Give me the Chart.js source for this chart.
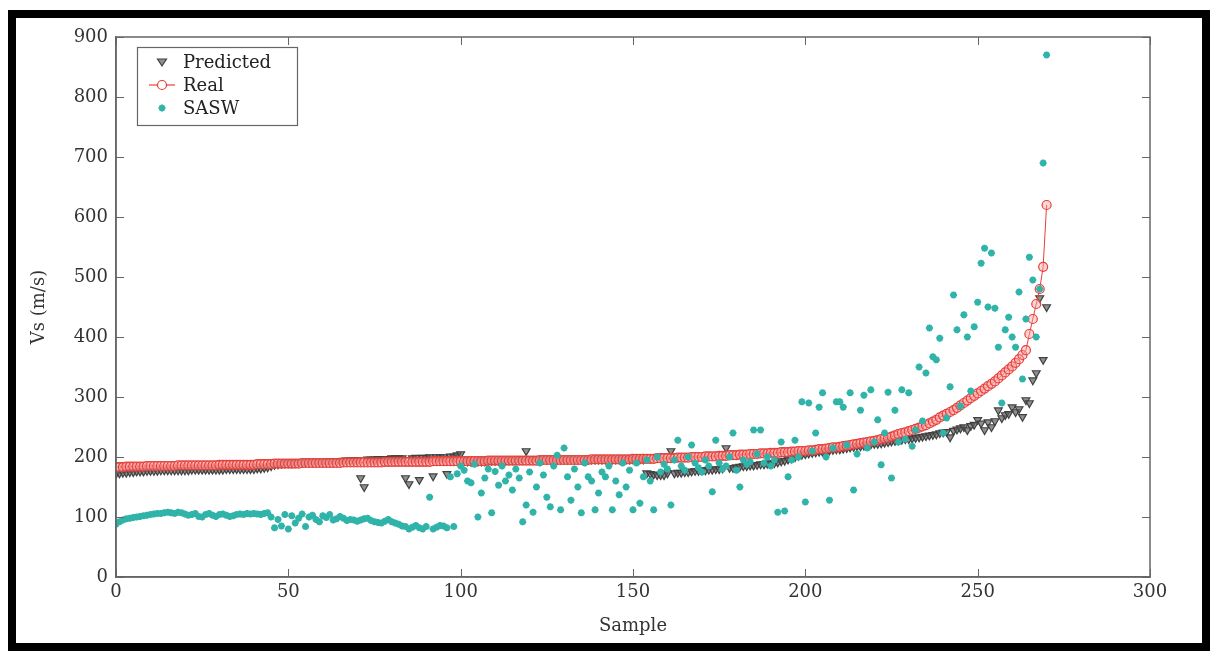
<!DOCTYPE html>
<html>
<head>
<meta charset="utf-8">
<script src="https://cdn.jsdelivr.net/npm/chart.js@4.4.1/dist/chart.umd.min.js"></script>
<style>
  html, body { margin: 0; padding: 0; background: #fff; }
  body { width: 1210px; height: 651px; position: relative; overflow: hidden; }
  #frame { position: absolute; left: 8px; top: 10px; width: 1202px; height: 641px; border: 8px solid #000; box-sizing: border-box; }
  #wrap { position: absolute; left: 0; top: 0; width: 1210px; height: 651px; }
</style>
</head>
<body>
<div id="frame"></div>
<div id="wrap"><canvas id="c" width="1210" height="651"></canvas></div>
<script>
// ---- data ----
const seriesNames = ["Predicted", "Real", "SASW"];
const xTicks = [0, 50, 100, 150, 200, 250, 300];
const yTicks = [0, 100, 200, 300, 400, 500, 600, 700, 800, 900];

const real = [
  183,183,183,184,184,184,184,184,184,185,
  185,185,185,185,185,185,185,185,186,186,
  186,186,186,186,186,186,186,186,186,186,
  187,187,187,187,187,187,187,187,187,187,
  187,188,188,188,188,188,189,189,189,189,
  189,189,189,189,190,190,190,190,190,190,
  190,190,190,190,190,190,191,191,191,191,
  191,191,191,191,191,191,191,191,192,192,
  192,192,192,192,192,192,192,192,192,192,
  192,192,193,193,193,193,193,193,193,193,
  193,193,193,193,193,193,193,193,194,194,
  194,194,194,194,194,194,194,194,194,194,
  194,194,194,195,195,195,195,195,195,195,
  195,195,195,195,195,195,195,195,196,196,
  196,196,196,196,196,196,196,196,196,196,
  197,197,197,197,197,197,197,198,198,198,
  198,198,198,199,199,199,199,200,200,200,
  200,201,201,201,201,202,202,202,203,203,
  203,204,204,204,205,205,205,206,206,206,
  207,207,207,208,208,208,209,209,210,210,
  210,211,211,212,213,213,214,215,216,216,
  217,218,219,220,221,222,223,224,225,226,
  227,228,230,231,232,234,236,238,240,241,
  243,245,247,249,251,253,256,259,262,266,
  269,272,275,278,282,286,290,294,298,302,
  306,310,314,318,322,326,331,336,341,346,
  351,357,363,370,378,405,430,455,480,517,
  620
];

const predicted = [
  172,173,174,174,175,175,176,176,176,177,
  177,177,177,178,178,178,178,178,178,178,
  178,178,179,179,179,179,179,179,179,179,
  179,179,180,180,180,180,180,180,180,180,
  180,181,181,182,183,185,187,188,189,190,
  190,190,191,191,191,191,192,192,192,192,
  192,192,193,193,193,193,194,194,195,195,
  195,165,150,196,196,196,197,197,197,197,
  198,198,198,198,165,155,198,199,162,199,
  199,200,168,200,200,200,172,201,201,203,
  205,195,193,192,192,193,193,193,194,194,
  194,194,195,195,195,195,195,196,196,210,
  196,196,196,196,196,196,196,196,196,196,
  196,196,196,196,196,196,196,196,196,196,
  196,196,196,196,196,196,196,196,196,196,
  196,196,196,196,173,172,171,170,170,170,
  173,210,173,174,174,175,175,176,177,177,
  178,178,179,179,180,180,181,215,182,182,
  183,184,185,185,186,186,187,188,188,189,
  190,190,191,193,194,196,198,200,202,204,
  205,206,207,208,209,209,210,211,212,213,
  213,214,215,216,217,218,218,219,220,221,
  222,222,223,224,225,226,227,228,229,230,
  230,231,232,233,234,235,236,237,238,240,
  241,242,233,244,246,248,250,245,252,254,
  262,256,245,258,250,260,278,265,270,272,
  283,275,280,267,295,290,328,340,465,362,
  450
];

const sasw = [
  88,92,95,97,98,99,100,101,102,103,
  104,105,106,106,107,108,107,106,108,107,
  105,103,104,106,101,100,104,106,103,101,
  104,105,103,101,102,104,105,104,106,105,
  106,105,104,106,107,100,82,96,85,104,
  80,102,90,98,105,84,100,103,96,92,
  102,99,104,95,97,101,98,94,96,95,
  93,95,97,98,94,92,91,90,93,96,
  92,90,88,85,84,80,83,86,82,80,
  84,133,80,83,86,85,82,167,84,172,
  185,178,160,157,188,100,140,165,180,107,
  176,153,185,160,170,145,180,165,92,120,
  175,108,150,190,170,133,117,185,203,112,
  215,167,128,180,150,107,190,167,160,112,
  140,175,167,185,112,160,137,190,150,178,
  112,190,123,167,195,160,112,200,175,188,
  180,120,195,228,185,178,200,220,190,182,
  175,195,185,142,228,190,180,185,200,240,
  178,150,195,188,192,245,205,245,190,200,
  185,195,108,225,110,167,195,228,200,292,
  125,290,210,240,283,307,200,128,215,292,
  292,283,220,307,145,205,278,303,215,312,
  225,262,187,240,308,165,278,225,312,230,
  307,218,245,350,260,340,415,367,362,398,
  240,265,317,470,412,285,437,400,310,417,
  458,523,548,450,540,448,383,290,412,433,
  400,383,475,330,430,533,495,400,480,690,
  870
];

// ---- build chart ----
const toXY = arr => arr.map((v, i) => ({ x: i, y: v }));
const SERIF = "'DejaVu Serif', 'Liberation Serif', serif";
const AXIS = '#666';
const TXT = '#333';

const styles = {
  Predicted: { color: '#404040', fill: 'rgba(95,95,95,0.7)' },
  Real: { color: '#e3403a', fill: 'rgba(255,160,160,0.45)' },
  SASW: { color: '#30b3a8', fill: '#30b3a8' }
};

const frameTicks = {
  id: 'frameTicks',
  afterDraw(chart) {
    const { ctx, chartArea: a } = chart;
    const xs = chart.scales.x, ys = chart.scales.y;
    ctx.save();
    ctx.strokeStyle = AXIS;
    ctx.lineWidth = 1.5;
    ctx.strokeRect(a.left, a.top, a.right - a.left, a.bottom - a.top);
    ctx.lineWidth = 1;
    const L = 8;
    xTicks.forEach(t => {
      const px = Math.round(xs.getPixelForValue(t)) + 0.5;
      ctx.beginPath();
      ctx.moveTo(px, a.bottom); ctx.lineTo(px, a.bottom - L);
      ctx.moveTo(px, a.top); ctx.lineTo(px, a.top + L);
      ctx.stroke();
    });
    yTicks.forEach(t => {
      const py = Math.round(ys.getPixelForValue(t)) + 0.5;
      ctx.beginPath();
      ctx.moveTo(a.left, py); ctx.lineTo(a.left + L, py);
      ctx.moveTo(a.right, py); ctx.lineTo(a.right - L, py);
      ctx.stroke();
    });
    // legend box
    const bx = a.left + 21, by = a.top + 10, bw = 160, bh = 78;
    ctx.fillStyle = '#fff';
    ctx.fillRect(bx, by, bw, bh);
    ctx.strokeStyle = AXIS;
    ctx.lineWidth = 1.2;
    ctx.strokeRect(bx + 0.5, by + 0.5, bw, bh);
    const mx = bx + 25;
    seriesNames.forEach((name, i) => {
      const y = by + 15 + i * 23;
      const st = styles[name];
      ctx.strokeStyle = st.color;
      ctx.fillStyle = st.fill;
      ctx.lineWidth = 1.2;
      if (name === 'Predicted') {
        ctx.beginPath();
        ctx.moveTo(mx - 4.5, y - 3); ctx.lineTo(mx + 4.5, y - 3); ctx.lineTo(mx, y + 4);
        ctx.closePath(); ctx.fill(); ctx.stroke();
      } else if (name === 'Real') {
        ctx.beginPath(); ctx.moveTo(mx - 13, y); ctx.lineTo(mx + 13, y); ctx.stroke();
        ctx.fillStyle = '#fff';
        ctx.beginPath(); ctx.arc(mx, y, 4.5, 0, Math.PI * 2); ctx.fill(); ctx.stroke();
      } else {
        ctx.lineWidth = 2;
        ctx.beginPath();
        for (let k = 0; k < 4; k++) {
          const ang = k * Math.PI / 4;
          ctx.moveTo(mx - 3.5 * Math.cos(ang), y - 3.5 * Math.sin(ang));
          ctx.lineTo(mx + 3.5 * Math.cos(ang), y + 3.5 * Math.sin(ang));
        }
        ctx.stroke();
      }
      ctx.fillStyle = '#222';
      ctx.font = "18px " + SERIF;
      ctx.textBaseline = 'middle';
      ctx.textAlign = 'left';
      ctx.fillText(name, bx + 46, y + 1);
    });
    ctx.restore();
  }
};

new Chart(document.getElementById('c'), {
  type: 'scatter',
  data: {
    datasets: [
      {
        label: 'Predicted', data: toXY(predicted), order: 3,
        pointStyle: 'triangle', rotation: 180, pointRadius: 4.5,
        borderColor: styles.Predicted.color, backgroundColor: styles.Predicted.fill,
        borderWidth: 1.2, showLine: false
      },
      {
        label: 'Real', data: toXY(real), order: 2,
        pointStyle: 'circle', pointRadius: 4.5,
        borderColor: styles.Real.color, backgroundColor: styles.Real.fill,
        pointBorderColor: styles.Real.color, pointBackgroundColor: styles.Real.fill,
        borderWidth: 1, pointBorderWidth: 1.2, showLine: true
      },
      {
        label: 'SASW', data: toXY(sasw), order: 1,
        pointStyle: 'star', pointRadius: 3.5,
        borderColor: styles.SASW.color, backgroundColor: styles.SASW.fill,
        borderWidth: 2.2, showLine: false
      }
    ]
  },
  options: {
    responsive: false,
    animation: false,
    events: [],
    layout: { padding: { left: 29, top: 37, right: 60, bottom: 14 } },
    plugins: { legend: { display: false }, tooltip: { enabled: false } },
    scales: {
      x: {
        type: 'linear', min: 0, max: 300,
        afterFit: s => { s.height = 60; },
        afterBuildTicks: s => { s.ticks = xTicks.map(v => ({ value: v })); },
        grid: { display: false, drawTicks: false },
        border: { display: true, color: AXIS, width: 1.5 },
        ticks: { padding: 5, color: TXT, font: { family: SERIF, size: 18 } },
        title: { display: true, text: 'Sample', color: TXT, font: { family: SERIF, size: 18 }, padding: { top: 4, bottom: 0 } }
      },
      y: {
        type: 'linear', min: 0, max: 900,
        afterFit: s => { s.width = 87; },
        afterBuildTicks: s => { s.ticks = yTicks.map(v => ({ value: v })); },
        grid: { display: false, drawTicks: false },
        border: { display: true, color: AXIS, width: 1.5 },
        ticks: { padding: 8, color: TXT, font: { family: SERIF, size: 18 } },
        title: { display: true, text: 'Vs (m/s)', color: TXT, font: { family: SERIF, size: 18 }, padding: { top: 0, bottom: 4 } }
      }
    }
  },
  plugins: [frameTicks]
});
</script>
</body>
</html>
